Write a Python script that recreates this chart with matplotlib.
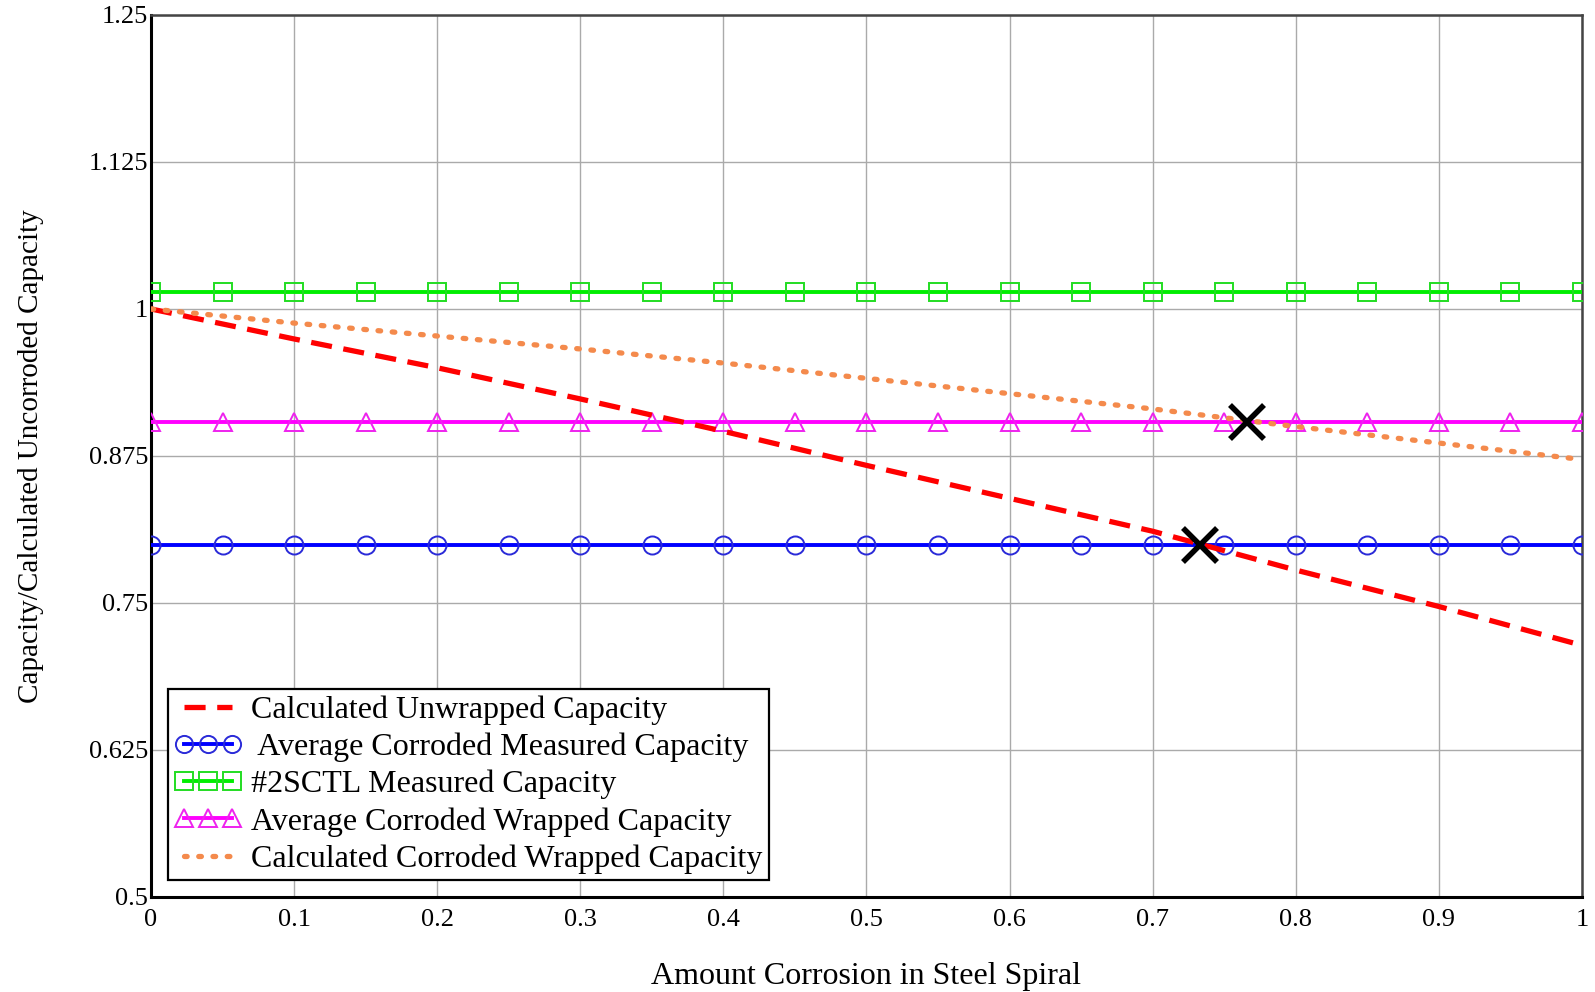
import numpy as np
import matplotlib.pyplot as plt
from matplotlib.ticker import FixedLocator, FixedFormatter

# values
x_curve = [0, 0.1, 0.2, 0.3, 0.4, 0.5, 0.6, 0.7, 0.8, 0.9, 1.0]
unwrapped_calc = [1.0, 0.9745, 0.950, 0.9235, 0.896, 0.867, 0.839, 0.811, 0.778, 0.747, 0.714]
wrapped_calc = [1.0, 0.988, 0.977, 0.966, 0.954, 0.941, 0.928, 0.915, 0.900, 0.886, 0.872]

x_const = [0, 0.05, 0.1, 0.15, 0.2, 0.25, 0.3, 0.35, 0.4, 0.45, 0.5,
           0.55, 0.6, 0.65, 0.7, 0.75, 0.8, 0.85, 0.9, 0.95, 1.0]
avg_corroded_measured = 0.799
sctl_measured = 1.0145
avg_corroded_wrapped = 0.904

cross_x = [0.733, 0.766]
cross_y = [0.799, 0.904]

xticks = [0, 0.1, 0.2, 0.3, 0.4, 0.5, 0.6, 0.7, 0.8, 0.9, 1.0]
xtick_labels = ["0", "0.1", "0.2", "0.3", "0.4", "0.5", "0.6", "0.7", "0.8", "0.9", "1"]
yticks = [0.5, 0.625, 0.75, 0.875, 1.0, 1.125, 1.25]
ytick_labels = ["0.5", "0.625", "0.75", "0.875", "1", "1.125", "1.25"]

plt.rcParams['font.family'] = ['Liberation Serif', 'DejaVu Serif']

fig = plt.figure(figsize=(15.95, 9.92), dpi=100)
ax = fig.add_axes([0.0947, 0.0958, 0.8971, 0.8891])

ax.plot(x_curve, unwrapped_calc, color='#ff0000', lw=3.8, ls=(0, (4, 2.2)),
        label="Calculated Unwrapped Capacity", zorder=4)
ax.plot(x_const, [avg_corroded_measured] * len(x_const), color='#0000ff', lw=2.8,
        marker='o', ms=13, mfc='none', mec='#2a2ad8', mew=1.4,
        label=" Average Corroded Measured Capacity", zorder=3)
ax.plot(x_const, [sctl_measured] * len(x_const), color='#00ee00', lw=2.8,
        marker='s', ms=13, mfc='none', mec='#22dd22', mew=1.4,
        label="#2SCTL Measured Capacity", zorder=3)
ax.plot(x_const, [avg_corroded_wrapped] * len(x_const), color='#ff00ff', lw=2.8,
        marker='^', ms=13, mfc='none', mec='#ee22ee', mew=1.4,
        label="Average Corroded Wrapped Capacity", zorder=3)
ax.plot(x_curve, wrapped_calc, color='#f48a4c', lw=3.8, ls=(0, (0.5, 2.2)),
        dash_capstyle='round', label="Calculated Corroded Wrapped Capacity", zorder=4)

ax.plot(cross_x, cross_y, ls='none', marker='x', ms=24, mew=4, color='black', zorder=6)

ax.set_xlim(0, 1)
ax.set_ylim(0.5, 1.25)
ax.xaxis.set_major_locator(FixedLocator(xticks))
ax.xaxis.set_major_formatter(FixedFormatter(xtick_labels))
ax.yaxis.set_major_locator(FixedLocator(yticks))
ax.yaxis.set_major_formatter(FixedFormatter(ytick_labels))
ax.tick_params(axis='both', length=0, labelsize=19)
ax.tick_params(axis='x', pad=9)
ax.tick_params(axis='y', pad=2)
ax.grid(True, color='#aaaaaa', lw=1.0)

for side in ['left', 'bottom']:
    ax.spines[side].set_linewidth(2.2)
    ax.spines[side].set_color('black')
for side in ['top', 'right']:
    ax.spines[side].set_linewidth(1.8)
    ax.spines[side].set_color('#444444')

ax.set_xlabel("Amount Corrosion in Steel Spiral", fontsize=23, labelpad=22)
ax.set_ylabel("Capacity/Calculated Uncorroded Capacity", fontsize=21, labelpad=32)

leg = ax.legend(loc='lower left', bbox_to_anchor=(0.012, 0.019), borderaxespad=0,
                fontsize=23, numpoints=3, handlelength=2.1, handletextpad=0.3,
                labelspacing=0.24, borderpad=0.2, fancybox=False, framealpha=1,
                edgecolor='black', markerscale=0.95)
leg.get_frame().set_linewidth(1.6)

plt.savefig("out.png", dpi=100)
